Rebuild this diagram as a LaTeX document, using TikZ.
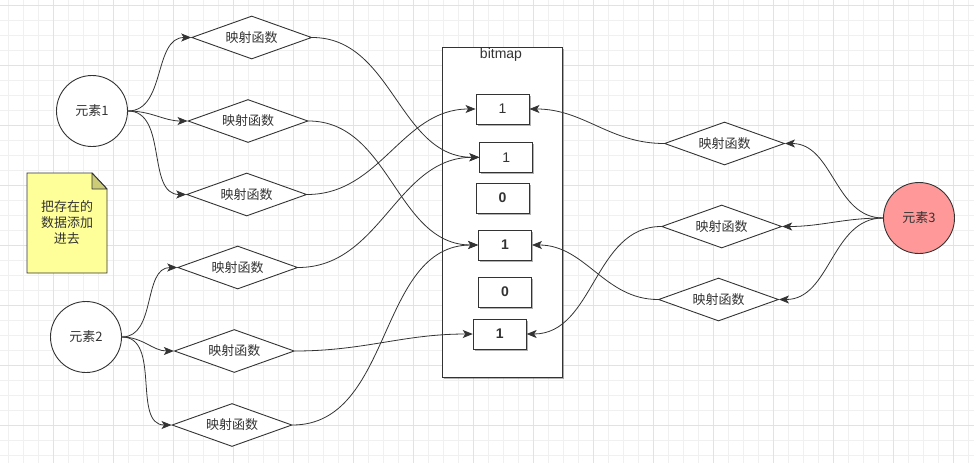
\documentclass[tikz,border=0pt]{standalone}
\usepackage{fontspec}
\setmainfont{Liberation Sans}
\newfontfamily\cjk{Noto Sans CJK SC}
\usetikzlibrary{shapes.geometric,arrows.meta,shadows}
\definecolor{ln}{HTML}{333333}
\definecolor{notey}{HTML}{FFFF99}
\definecolor{notef}{HTML}{CCCC77}
\definecolor{redfill}{HTML}{FF9999}
\definecolor{gmin}{HTML}{F0F0F0}
\definecolor{gmaj}{HTML}{E2E2E2}
\begin{document}
\begin{tikzpicture}[x=1pt,y=-1pt,
  every node/.style={font=\fontsize{14}{16}\selectfont, text=ln},
  elem/.style={circle, draw=ln, line width=0.9pt, fill=white, minimum size=71pt, inner sep=0pt, font=\cjk\fontsize{13}{15}\selectfont},
  mapf/.style={diamond, draw=ln, line width=0.9pt, fill=white, aspect=2.8, minimum width=120pt, minimum height=43pt, inner sep=0pt, font=\cjk\fontsize{13}{15}\selectfont},
  shad/.style={drop shadow={shadow xshift=1.6pt, shadow yshift=-1.6pt, opacity=0.3, fill=black}},
  bit/.style={rectangle, draw=ln, line width=0.9pt, fill=white, minimum width=53pt, minimum height=30pt, inner sep=0pt, shad},
  conn/.style={draw=ln, line width=0.8pt, -{Stealth[length=10pt,width=8pt,inset=2.5pt]}},
]
\useasboundingbox (0,0) rectangle (974,463);
\fill[white] (0,0) rectangle (974,463);
% grid
\foreach \x in {8,23,...,968} \draw[gmin, line width=1pt] (\x,0) -- (\x,463);
\foreach \y in {5,20,...,455} \draw[gmin, line width=1pt] (0,\y) -- (974,\y);
\foreach \x in {53,113,...,953} \draw[gmaj, line width=1pt] (\x,0) -- (\x,463);
\foreach \y in {5,65,...,425} \draw[gmaj, line width=1pt] (0,\y) -- (974,\y);

% bitmap container
\node[draw=ln, line width=0.9pt, fill=white, minimum width=120pt, minimum height=330pt, inner sep=0pt, shad] (bm) at (502,212) {};
\node (bmt) at (501,55) {bitmap};

% bit boxes
\node[bit] (b1) at (502.5,109) {1};
\node[bit] (b2) at (506.3,157.3) {1};
\node[bit] (b3) at (502.5,198) {\bfseries 0};
\node[bit] (b4) at (505,245) {\bfseries 1};
\node[bit] (b5) at (505,292) {\bfseries 0};
\node[bit] (b6) at (499.7,334) {\bfseries 1};

% elements
\node[elem] (e1) at (92,111) {元素1};
\node[elem] (e2) at (86,337) {元素2};
\node[elem, fill=redfill] (e3) at (919,218) {元素3};

% mapping functions
\node[mapf] (d1) at (251.7,37.5) {映射函数};
\node[mapf] (d2) at (248,121) {映射函数};
\node[mapf] (d3) at (246.7,194.5) {映射函数};
\node[mapf] (d4) at (237.7,267.5) {映射函数};
\node[mapf] (d5) at (234.3,351) {映射函数};
\node[mapf] (d6) at (232,425) {映射函数};
\node[mapf] (d7) at (724.5,143.5) {映射函数};
\node[mapf] (d8) at (721.7,226.5) {映射函数};
\node[mapf] (d9) at (718.5,299.5) {映射函数};

% note
\filldraw[fill=notey, draw=ln, line width=0.9pt] (27,173) -- (92,173) -- (107,189) -- (107,273) -- (27,273) -- cycle;
\filldraw[fill=notef, draw=ln, line width=0.9pt, line join=round] (92,173) -- (92,189) -- (107,189) -- cycle;
\node[align=center, font=\cjk\fontsize{13}{16}\selectfont] (note) at (67,222.5) {把存在的\\数据添加\\进去};

% connectors from elements
\draw[conn] (e1.east) to[out=0,in=180] (d1.west);
\draw[conn] (e1.east) to[out=0,in=180] (d2.west);
\draw[conn] (e1.east) to[out=0,in=180] (d3.west);
\draw[conn] (e2.east) to[out=0,in=180] (d4.west);
\draw[conn] (e2.east) to[out=0,in=180] (d5.west);
\draw[conn] (e2.east) to[out=0,in=180] (d6.west);
\draw[conn] (e3.west) to[out=180,in=0] (d7.east);
\draw[conn] (e3.west) to[out=180,in=0] (d8.east);
\draw[conn] (e3.west) to[out=180,in=0] (d9.east);

% connectors to bitmap
\draw[conn] (d1.east) to[out=0,in=180] (b2.west);
\draw[conn] (d2.east) to[out=0,in=180] (b4.west);
\draw[conn] (d3.east) to[out=0,in=180] (b1.west);
\draw[conn] (d4.east) to[out=0,in=180] (b2.west);
\draw[conn] (d5.east) to[out=0,in=180] (b6.west);
\draw[conn] (d6.east) to[out=0,in=180] (b4.west);
\draw[conn] (d7.west) to[out=180,in=0] (b1.east);
\draw[conn] (d8.west) to[out=180,in=0] (b6.east);
\draw[conn] (d9.west) to[out=180,in=0] (b4.east);
\end{tikzpicture}
\end{document}
